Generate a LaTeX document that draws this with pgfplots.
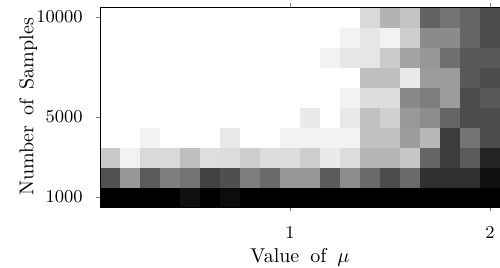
\documentclass[border=0pt]{standalone}
\usepackage{pgfplots}
\pgfplotsset{compat=1.18}
\begin{document}
\begin{tikzpicture}
\begin{axis}[name=ax,
  width=200pt, height=100pt, scale only axis,
  xmin=0.05, xmax=2.05, ymin=500, ymax=10500,
  xtick={1,2}, ytick={1000,5000,10000},
  tick align=outside, major tick length=2pt,
  scaled y ticks=false,
  ticklabel style={font=\fontsize{9}{10}\selectfont},
  yticklabel style={/pgf/number format/1000 sep={}, anchor=east, inner sep=0pt, xshift=-6.5pt},
  xticklabel style={anchor=base, inner sep=0pt, yshift=-14pt},
  xlabel={Value\hspace{5.5pt}of\hspace{5.5pt}$\mu$},
  ylabel={Number\hspace{5pt}of\hspace{5pt}Samples},
  xlabel style={at={(axis description cs:0.5,0)}, anchor=base, inner sep=0pt, yshift=-27.5pt},
  ylabel style={at={(axis description cs:-0.1665,0.5)}, anchor=base, inner sep=0pt},
  axis on top,
  colormap={bw}{gray(0cm)=(0); gray(1cm)=(1)},
  point meta min=0, point meta max=255,
]
\addplot[matrix plot*, mesh/cols=20, point meta=explicit] table[meta=c, row sep=\\] {
x y c \\
0.1 1000 0 \\ 0.2 1000 0 \\ 0.3 1000 0 \\ 0.4 1000 0 \\ 0.5 1000 15 \\ 0.6 1000 0 \\ 0.7 1000 12 \\ 0.8 1000 0 \\ 0.9 1000 0 \\ 1.0 1000 0 \\
1.1 1000 0 \\ 1.2 1000 0 \\ 1.3 1000 0 \\ 1.4 1000 0 \\ 1.5 1000 0 \\ 1.6 1000 0 \\ 1.7 1000 0 \\ 1.8 1000 0 \\ 1.9 1000 0 \\ 2.0 1000 0 \\
0.1 2000 80 \\ 0.2 2000 150 \\ 0.3 2000 90 \\ 0.4 2000 125 \\ 0.5 2000 115 \\ 0.6 2000 65 \\ 0.7 2000 78 \\ 0.8 2000 125 \\ 0.9 2000 105 \\ 1.0 2000 150 \\
1.1 2000 150 \\ 1.2 2000 90 \\ 1.3 2000 140 \\ 1.4 2000 105 \\ 1.5 2000 75 \\ 1.6 2000 105 \\ 1.7 2000 48 \\ 1.8 2000 48 \\ 1.9 2000 48 \\ 2.0 2000 15 \\
0.1 3000 200 \\ 0.2 3000 240 \\ 0.3 3000 215 \\ 0.4 3000 215 \\ 0.5 3000 190 \\ 0.6 3000 220 \\ 0.7 3000 218 \\ 0.8 3000 205 \\ 0.9 3000 218 \\ 1.0 3000 218 \\
1.1 3000 205 \\ 1.2 3000 232 \\ 1.3 3000 218 \\ 1.4 3000 180 \\ 1.5 3000 180 \\ 1.6 3000 198 \\ 1.7 3000 100 \\ 1.8 3000 60 \\ 1.9 3000 90 \\ 2.0 3000 35 \\
0.1 4000 255 \\ 0.2 4000 255 \\ 0.3 4000 240 \\ 0.4 4000 255 \\ 0.5 4000 255 \\ 0.6 4000 255 \\ 0.7 4000 230 \\ 0.8 4000 255 \\ 0.9 4000 255 \\ 1.0 4000 240 \\
1.1 4000 240 \\ 1.2 4000 240 \\ 1.3 4000 240 \\ 1.4 4000 192 \\ 1.5 4000 192 \\ 1.6 4000 155 \\ 1.7 4000 182 \\ 1.8 4000 60 \\ 1.9 4000 115 \\ 2.0 4000 75 \\
0.1 5000 255 \\ 0.2 5000 255 \\ 0.3 5000 255 \\ 0.4 5000 255 \\ 0.5 5000 255 \\ 0.6 5000 255 \\ 0.7 5000 255 \\ 0.8 5000 255 \\ 0.9 5000 255 \\ 1.0 5000 255 \\
1.1 5000 232 \\ 1.2 5000 255 \\ 1.3 5000 230 \\ 1.4 5000 192 \\ 1.5 5000 208 \\ 1.6 5000 152 \\ 1.7 5000 140 \\ 1.8 5000 100 \\ 1.9 5000 75 \\ 2.0 5000 75 \\
0.1 6000 255 \\ 0.2 6000 255 \\ 0.3 6000 255 \\ 0.4 6000 255 \\ 0.5 6000 255 \\ 0.6 6000 255 \\ 0.7 6000 255 \\ 0.8 6000 255 \\ 0.9 6000 255 \\ 1.0 6000 255 \\
1.1 6000 255 \\ 1.2 6000 255 \\ 1.3 6000 240 \\ 1.4 6000 218 \\ 1.5 6000 218 \\ 1.6 6000 135 \\ 1.7 6000 125 \\ 1.8 6000 155 \\ 1.9 6000 75 \\ 2.0 6000 88 \\
0.1 7000 255 \\ 0.2 7000 255 \\ 0.3 7000 255 \\ 0.4 7000 255 \\ 0.5 7000 255 \\ 0.6 7000 255 \\ 0.7 7000 255 \\ 0.8 7000 255 \\ 0.9 7000 255 \\ 1.0 7000 255 \\
1.1 7000 255 \\ 1.2 7000 255 \\ 1.3 7000 255 \\ 1.4 7000 190 \\ 1.5 7000 190 \\ 1.6 7000 232 \\ 1.7 7000 155 \\ 1.8 7000 155 \\ 1.9 7000 88 \\ 2.0 7000 75 \\
0.1 8000 255 \\ 0.2 8000 255 \\ 0.3 8000 255 \\ 0.4 8000 255 \\ 0.5 8000 255 \\ 0.6 8000 255 \\ 0.7 8000 255 \\ 0.8 8000 255 \\ 0.9 8000 255 \\ 1.0 8000 255 \\
1.1 8000 255 \\ 1.2 8000 240 \\ 1.3 8000 228 \\ 1.4 8000 228 \\ 1.5 8000 202 \\ 1.6 8000 162 \\ 1.7 8000 150 \\ 1.8 8000 110 \\ 1.9 8000 88 \\ 2.0 8000 88 \\
0.1 9000 255 \\ 0.2 9000 255 \\ 0.3 9000 255 \\ 0.4 9000 255 \\ 0.5 9000 255 \\ 0.6 9000 255 \\ 0.7 9000 255 \\ 0.8 9000 255 \\ 0.9 9000 255 \\ 1.0 9000 255 \\
1.1 9000 255 \\ 1.2 9000 255 \\ 1.3 9000 240 \\ 1.4 9000 228 \\ 1.5 9000 240 \\ 1.6 9000 205 \\ 1.7 9000 138 \\ 1.8 9000 138 \\ 1.9 9000 100 \\ 2.0 9000 75 \\
0.1 10000 255 \\ 0.2 10000 255 \\ 0.3 10000 255 \\ 0.4 10000 255 \\ 0.5 10000 255 \\ 0.6 10000 255 \\ 0.7 10000 255 \\ 0.8 10000 255 \\ 0.9 10000 255 \\ 1.0 10000 255 \\
1.1 10000 255 \\ 1.2 10000 255 \\ 1.3 10000 255 \\ 1.4 10000 215 \\ 1.5 10000 178 \\ 1.6 10000 195 \\ 1.7 10000 98 \\ 1.8 10000 115 \\ 1.9 10000 100 \\ 2.0 10000 75 \\
};
\end{axis}
\pgfresetboundingbox
\path ([xshift=-50pt,yshift=-30.5pt]ax.south west) rectangle ([yshift=3.5pt]ax.north east);
\end{tikzpicture}
\end{document}
